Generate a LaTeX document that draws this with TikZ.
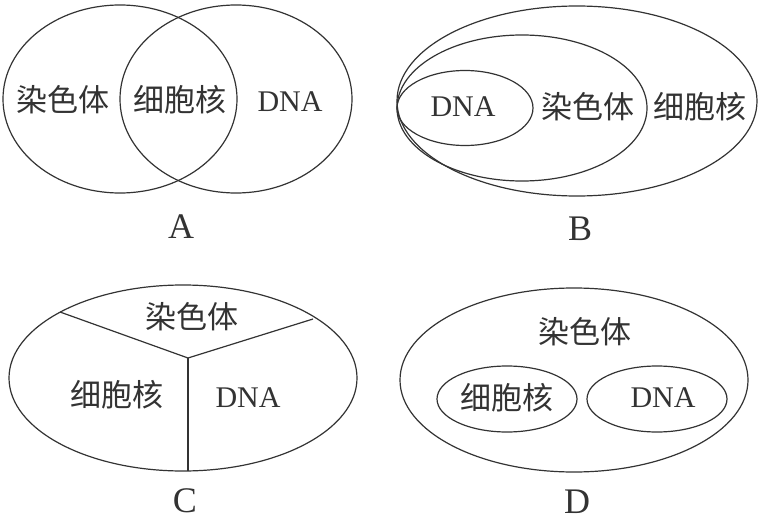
\documentclass[tikz,border=0pt]{standalone}
\usepackage{fontspec}
\usetikzlibrary{shapes.geometric}
\setmainfont{Liberation Serif}
\newfontfamily\cjk{Noto Sans CJK SC}
\begin{document}
\begin{tikzpicture}[x=1pt,y=-1pt,
  outline/.style={draw=black!80, line width=1.2pt},
  zh/.style={font=\cjk\fontsize{31}{31}\selectfont, text=black!80, inner sep=0pt},
  en/.style={font=\fontsize{30}{30}\selectfont, text=black!80, inner sep=0pt},
  tag/.style={font=\fontsize{36}{36}\selectfont, text=black!80, inner sep=0pt}]
\useasboundingbox[fill=white] (0,0) rectangle (760,524);
% ---- A ----
\draw[outline] (120,99) ellipse [x radius=117, y radius=94];
\draw[outline] (236,99) ellipse [x radius=116, y radius=94];
\node[zh] (a1) at (63,100) {染色体};
\node[zh] (a2) at (180,100) {细胞核};
\node[en] (a3) at (290,102) {DNA};
\node[tag] (la) at (181,227) {A};
% ---- B ----
\draw[outline] (577,101) ellipse [x radius=180, y radius=95];
\draw[outline] (522,108) ellipse [x radius=125, y radius=73];
\draw[outline] (465,108) ellipse [x radius=68, y radius=37.5];
\node[en] (b1) at (463,107) {DNA};
\node[zh] (b2) at (588,107) {染色体};
\node[zh] (b3) at (700,107) {细胞核};
\node[tag] (lb) at (580,229) {B};
% ---- C ----
\draw[outline] (183,378) ellipse [x radius=174, y radius=93];
\coordinate (cc) at (188,358);
\coordinate (cl) at (60,312);
\coordinate (cr) at (313,319);
\coordinate (cb) at (188,471);
\draw[outline] (cl) -- (cc) -- (cr);
\draw[outline] (cc) -- (cb);
\node[zh] (c1) at (192,317) {染色体};
\node[zh] (c2) at (117,395) {细胞核};
\node[en] (c3) at (248,398) {DNA};
\node[tag] (lc) at (185,501) {C};
% ---- D ----
\draw[outline] (574,380) ellipse [x radius=174, y radius=92];
\draw[outline] (507,399) ellipse [x radius=70, y radius=33];
\draw[outline] (657,399) ellipse [x radius=70, y radius=33];
\node[zh] (d1) at (585,332) {染色体};
\node[zh] (d2) at (507,398) {细胞核};
\node[en] (d3) at (663,398) {DNA};
\node[tag] (ld) at (577,502) {D};
\end{tikzpicture}
\end{document}
